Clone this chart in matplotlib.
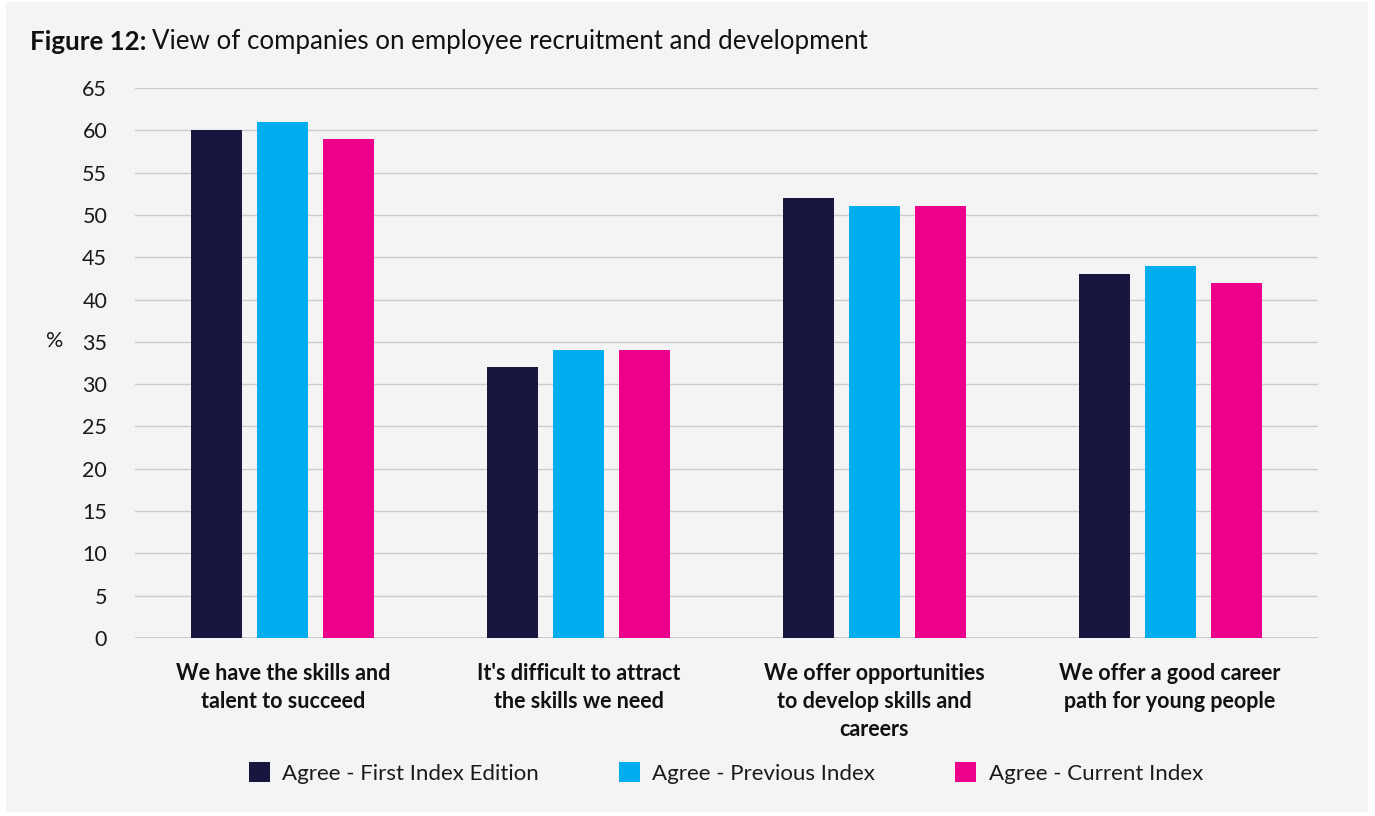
import matplotlib
matplotlib.use("Agg")
import matplotlib.pyplot as plt
from matplotlib.patches import Rectangle, Patch
import numpy as np

categories = [
    "We have the skills and\ntalent to succeed",
    "It's difficult to attract\nthe skills we need",
    "We offer opportunities\nto develop skills and\ncareers",
    "We offer a good career\npath for young people",
]
series_names = [
    "Agree - First Index Edition",
    "Agree - Previous Index",
    "Agree - Current Index",
]
first_index = [60, 32, 52, 43]
previous_index = [61, 34, 51, 44]
current_index = [59, 34, 51, 42]
y_ticks = list(range(0, 66, 5))

colors = ["#16163f", "#00aeef", "#ec008c"]
plt.rcParams["font.family"] = ["Lato", "DejaVu Sans"]

fig = plt.figure(figsize=(13.75, 8.16), dpi=100)
fig.patch.set_facecolor("white")
fig.patches.append(Rectangle((6 / 1375, 1 - 812 / 816), 1362 / 1375, 810 / 816,
                             transform=fig.transFigure, facecolor="#f4f4f4",
                             edgecolor="none", zorder=-5))

ax = fig.add_axes([135 / 1375, 1 - 638 / 816, 1183 / 1375, 550 / 816])
ax.set_zorder(2)
ax.set_facecolor("none")

x = np.arange(len(categories))
width = 0.172
step = 0.223
for i, (vals, name) in enumerate(zip([first_index, previous_index, current_index], series_names)):
    ax.bar(x + (i - 1) * step, vals, width, color=colors[i], label=name, zorder=3)

ax.set_xlim(-0.5, len(categories) - 0.5)
ax.set_ylim(0, 65)
ax.set_yticks(y_ticks)
ax.set_yticklabels([str(v) for v in y_ticks], fontsize=15.5, color="#1a1a1a")
ax.set_xticks(x)
ax.set_xticklabels(categories, fontsize=15.5, fontweight="bold", color="#111111",
                   linespacing=1.42, va="top")
ax.tick_params(axis="y", length=0, pad=20)
ax.tick_params(axis="x", length=0, pad=18)
ax.grid(axis="y", color="#cbcbd4", linewidth=1, zorder=0)
ax.axhline(0, color="#c4c4cc", linewidth=1.2, zorder=1)
for s in ax.spines.values():
    s.set_visible(False)

fig.text(55 / 1375, 1 - 341 / 816, "%", fontsize=15.5, color="#1a1a1a",
         ha="center", va="center")

t1 = fig.text(30 / 1375, 1 - 42 / 816, "Figure 12:", fontsize=18.6, fontweight="bold",
              color="#111111", ha="left", va="center")
fig.canvas.draw()
bb = t1.get_window_extent()
fig.text((bb.x1 + 6) / 1375, 1 - 42 / 816, "View of companies on employee recruitment and development",
         fontsize=18.6, color="#111111", ha="left", va="center")

handles = [Patch(facecolor=c, edgecolor="none") for c in colors]
fig.legend(handles, series_names, loc="center", bbox_to_anchor=(726 / 1375, 1 - 773 / 816),
           ncol=3, frameon=False, fontsize=16, handlelength=0.95, handleheight=0.95,
           handletextpad=0.55, columnspacing=3.6, labelcolor="#1a1a1a")

fig.savefig("out.png", dpi=100, facecolor=fig.get_facecolor())
